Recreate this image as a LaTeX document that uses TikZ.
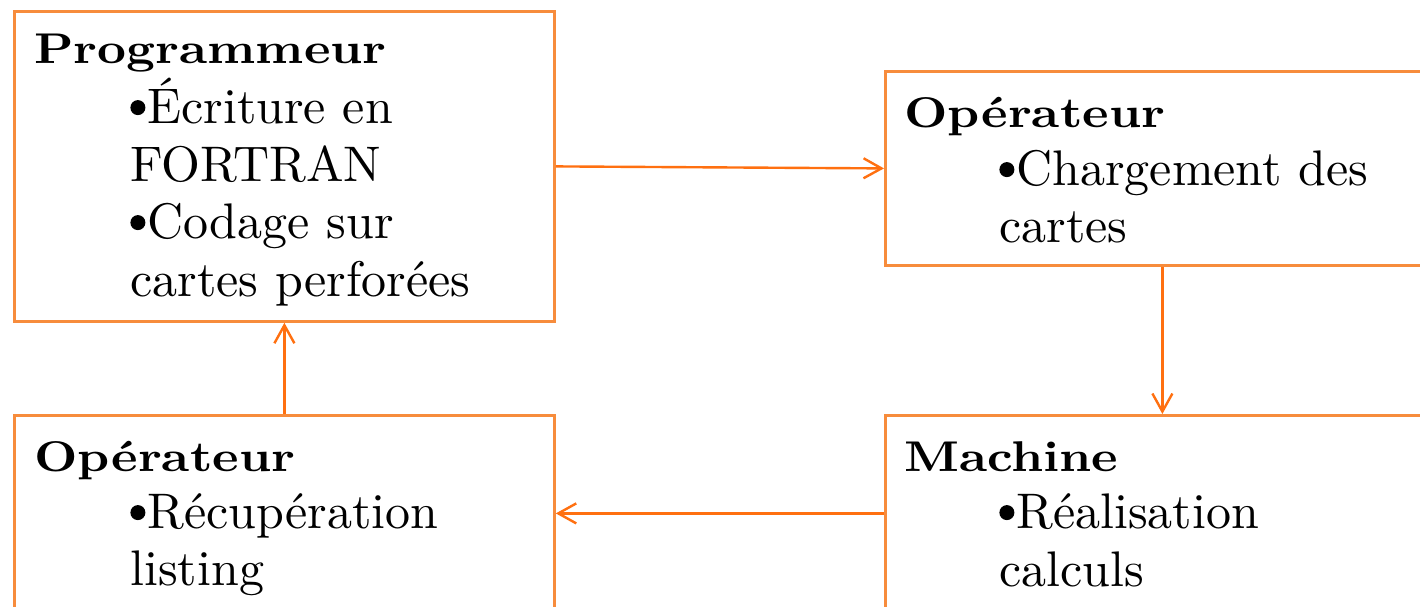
\documentclass[tikz,border=0pt]{standalone}
\usepackage{fontspec}
\setmainfont{lmroman10-regular}[Extension=.otf, BoldFont=lmroman10-bold]
\newfontfamily\headfont{lmroman10-bold}[Extension=.otf, FakeStretch=1.17]
\usetikzlibrary{arrows.meta}
\definecolor{boxline}{RGB}{247,140,60}
\definecolor{flow}{RGB}{255,112,16}
% round list marker, sitting at mid-height of the capitals
\newcommand\itemdot{\tikz[baseline=0pt,x=1pt,y=1pt]\fill (3.75,7.7) circle[radius=3.75];\kern1pt}
\tikzset{
  stage/.style={draw=boxline, line width=1.4pt, inner sep=0pt, anchor=north west},
  wide/.style={minimum width=270pt},
  wider/.style={minimum width=277pt},
  head/.style={anchor=base west, inner sep=0pt, font=\headfont\fontsize{21.5}{25}\selectfont},
  item/.style={anchor=base west, inner sep=0pt, font=\fontsize{25}{29}\selectfont},
  flowarrow/.style={draw=flow, line width=1.2pt, -{Straight Barb[length=9pt,width=10pt]}}
}
\begin{document}
\begin{tikzpicture}[x=0.5pt, y=-0.5pt]
  \useasboundingbox (0,0) rectangle (1420,606);
  \fill[white] (0,0) rectangle (1420,606);
  \clip (0,0) rectangle (1420,606);

  % the four stages
  \node[stage, wide, minimum height=155pt] (prog) at (13,10) {};
  \node[stage, wider, minimum height=97pt] (load) at (884,70) {};
  \node[stage, wider, minimum height=98pt] (mach) at (884,414) {};
  \node[stage, wide, minimum height=98pt] (list) at (13,414) {};

  % programmer
  \node[head] (progT) at (34,63) {Programmeur};
  \node[item] (progA) at (130,123) {\itemdot Écriture en};
  \node[item] (progB) at (130,181) {FORTRAN};
  \node[item] (progC) at (130,238) {\itemdot Codage sur};
  \node[item] (progD) at (130,296) {cartes perforées};

  % operator loading the cards
  \node[head] (loadT) at (904,127) {Opérateur};
  \node[item] (loadA) at (999,185) {\itemdot Chargement des};
  \node[item] (loadB) at (999,242) {cartes};

  % machine
  \node[head] (machT) at (904,471) {Machine};
  \node[item] (machA) at (999,528) {\itemdot Réalisation};
  \node[item] (machB) at (999,586) {calculs};

  % operator collecting the listing
  \node[head] (listT) at (34,471) {Opérateur};
  \node[item] (listA) at (130,528) {\itemdot Récupération};
  \node[item] (listB) at (130,585) {listing};

  % cycle
  \draw[flowarrow] (prog.east) -- (load.west);
  \draw[flowarrow] (load.south) -- (mach.north);
  \draw[flowarrow] (mach.west) -- (list.east);
  \draw[flowarrow] (list.north) -- (prog.south);
\end{tikzpicture}
\end{document}
